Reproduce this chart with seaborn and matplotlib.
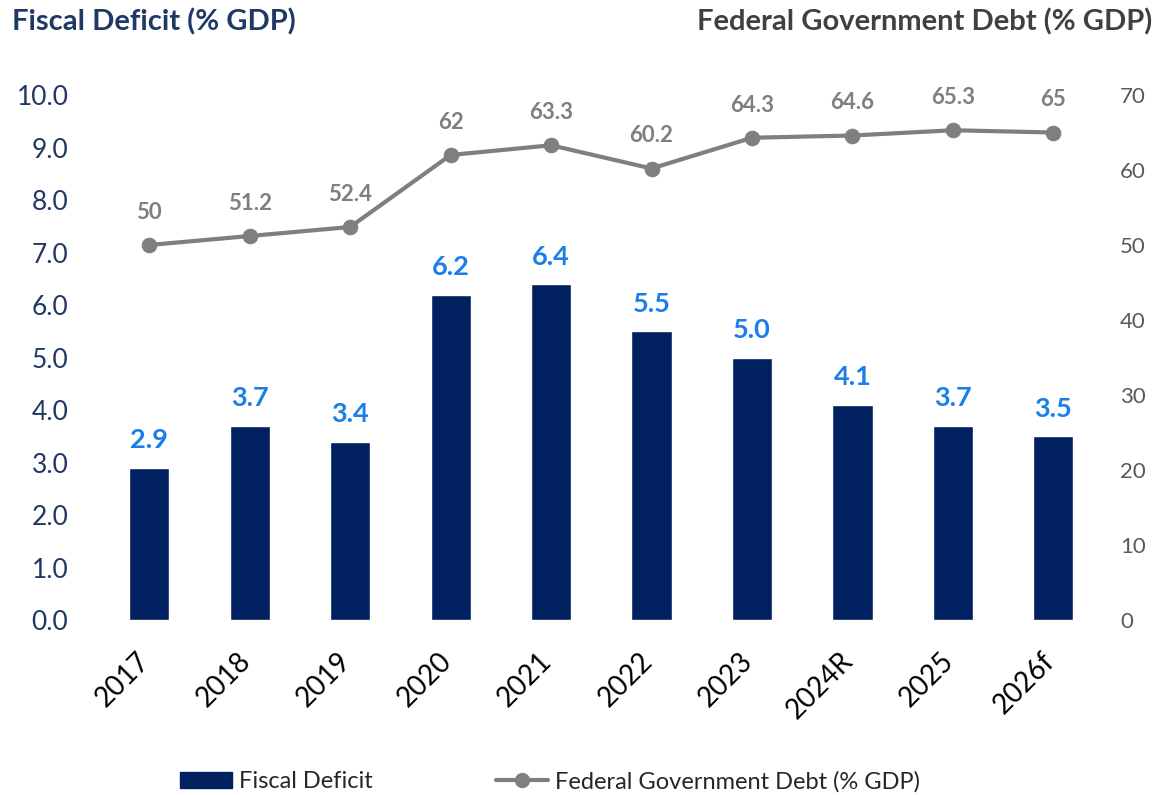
import matplotlib
matplotlib.use("Agg")
import matplotlib.pyplot as plt
import seaborn as sns
import pandas as pd
import numpy as np
from matplotlib.patches import Patch
from matplotlib.lines import Line2D
import matplotlib.transforms as mtransforms

years = ["2017", "2018", "2019", "2020", "2021", "2022", "2023", "2024R", "2025", "2026f"]
fiscal_deficit = [2.9, 3.7, 3.4, 6.2, 6.4, 5.5, 5.0, 4.1, 3.7, 3.5]
federal_debt = [50, 51.2, 52.4, 62, 63.3, 60.2, 64.3, 64.6, 65.3, 65]
debt_labels = ["50", "51.2", "52.4", "62", "63.3", "60.2", "64.3", "64.6", "65.3", "65"]

sns.set_theme(style="white")
plt.rcParams['font.family'] = ['Lato', 'DejaVu Sans']

BAR = "#002060"
LINE = "#7F7F7F"
LBL = "#1A7FE8"
NAVY = "#1F3864"

df = pd.DataFrame({"year": years, "deficit": fiscal_deficit, "debt": federal_debt})

fig = plt.figure(figsize=(11.58, 7.95), dpi=100)
ax = fig.add_axes([0.0855, 0.2201, 0.8675, 0.6604])
sns.barplot(data=df, x="year", y="deficit", color=BAR, width=0.4, ax=ax, saturation=1)
ax.set_ylim(0, 10)
ax.set_yticks(np.arange(0, 10.01, 1))
ax.set_yticklabels([f"{v:.1f}" for v in np.arange(0, 10.01, 1)], color=NAVY, fontsize=19)
ax.set_xlabel("")
ax.set_ylabel("")
ax.tick_params(axis="x", labelsize=20, labelcolor="black", pad=20, length=0)
ax.tick_params(axis="y", length=0, pad=22)
shift = mtransforms.ScaledTranslation(6 / 100, 0, fig.dpi_scale_trans)
for lab in ax.get_xticklabels():
    lab.set_rotation(45)
    lab.set_ha("right")
    lab.set_transform(lab.get_transform() + shift)
for i, v in enumerate(fiscal_deficit):
    ax.annotate(f"{v:.1f}", (i, v), xytext=(0, 11), textcoords="offset points",
                ha="center", va="bottom", color=LBL, fontsize=19.5, fontweight="bold")
for s in ax.spines.values():
    s.set_visible(False)

ax2 = ax.twinx()
sns.lineplot(data=df, x="year", y="debt", color=LINE, linewidth=3, marker="o",
             markersize=10.5, markeredgecolor=LINE, ax=ax2, sort=False)
ax2.set_ylim(0, 70)
ax2.set_yticks(np.arange(0, 71, 10))
ax2.set_yticklabels([str(v) for v in range(0, 71, 10)], color="#595959", fontsize=16)
ax2.tick_params(axis="y", length=0, pad=12)
ax2.set_ylabel("")
ax2.set_xlabel("")
for s in ax2.spines.values():
    s.set_visible(False)
for i, (v, t) in enumerate(zip(federal_debt, debt_labels)):
    ax2.annotate(t, (i, v), xytext=(0, 16), textcoords="offset points",
                 ha="center", va="bottom", color=LINE, fontsize=16, fontweight="bold")
ax.set_xlim(-0.5, 9.5)

fig.text(0.01, 0.972, "Fiscal Deficit (% GDP)", color=NAVY, fontsize=21, fontweight="bold",
         ha="left", va="center")
fig.text(0.995, 0.972, "Federal Government Debt (% GDP)", color="#404040", fontsize=21,
         fontweight="bold", ha="right", va="center")

handles = [Patch(facecolor=BAR, edgecolor=BAR),
           Line2D([0], [0], color=LINE, lw=3, marker="o", markersize=10)]
fig.legend(handles, ["Fiscal Deficit", "Federal Government Debt (% GDP)"],
           loc="center", bbox_to_anchor=(0.475, 0.017), ncol=2, frameon=False,
           fontsize=17, columnspacing=5.2, handlelength=2.2, handletextpad=0.3)

fig.savefig("out.png", dpi=100)
